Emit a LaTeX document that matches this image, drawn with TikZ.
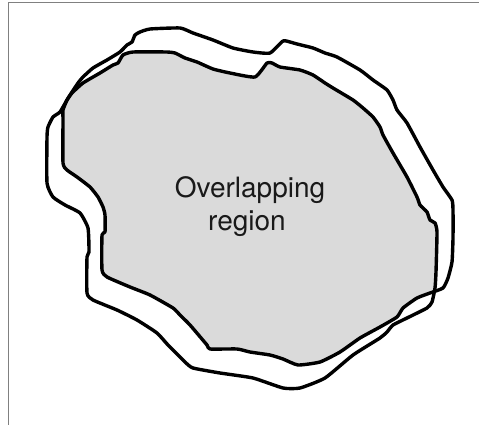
\documentclass[tikz,border=0pt]{standalone}
\usepackage{fontspec}
\setmainfont{TeX Gyre Heros}
\definecolor{framegray}{RGB}{128,128,128}
\definecolor{overlapgray}{RGB}{218,218,218}
\definecolor{textdark}{RGB}{25,25,25}
\def\blobP{plot[smooth cycle,tension=0.3] coordinates {(135,35)(140,32)(150,29)(180,28)(193,33)(213,40)(233,48)(253,52)(270,53)(283,41)(290,42)(297,44)(313,48)(325,53)(337,57)(360,70)(373,80)(387,90)(393,100)(397,110)(407,123)(420,147)(433,170)(443,187)(452,200)(453,210)(453,238)(452,262)(448,278)(443,288)(430,293)(417,298)(403,308)(397,317)(380,327)(360,338)(340,352)(320,362)(298,365)(283,359)(270,355)(250,352)(237,349)(210,349)(207,345)(190,325)(180,315)(173,308)(150,295)(130,287)(107,277)(102,270)(102,235)(105,232)(105,215)(103,207)(98,197)(90,187)(77,177)(67,170)(63,163)(63,120)(63,110)(67,100)(72,92)(78,83)(83,77)(93,68)(107,60)(120,52)(127,45)(132,42)}}
\def\blobQ{plot[smooth cycle,tension=0.3] coordinates {(123,55)(133,52)(167,52)(175,53)(185,58)(197,62)(213,69)(230,73)(255,77)(267,63)(272,63)(280,67)(300,70)(313,75)(325,83)(333,88)(353,100)(363,108)(373,117)(380,127)(383,135)(393,153)(407,177)(417,197)(420,205)(427,212)(430,220)(435,223)(437,232)(436,272)(435,288)(432,302)(427,308)(407,318)(393,325)(387,332)(380,338)(353,355)(325,378)(300,388)(283,388)(253,378)(220,373)(193,368)(185,362)(168,345)(157,333)(137,320)(117,310)(93,300)(87,293)(87,257)(89,252)(88,228)(80,213)(65,205)(53,197)(47,183)(47,137)(48,127)(53,117)(60,112)(67,100)(72,93)(83,83)(100,73)(113,65)(118,63)}}
\tikzset{
  outline/.style={draw=black, line width=3.4pt, line join=round, line cap=round},
  framestyle/.style={draw=framegray, line width=1pt},
  labeltext/.style={text=textdark, font=\fontsize{28}{33}\selectfont, inner sep=0pt, anchor=base}
}
\begin{document}
\begin{tikzpicture}[x=1pt,y=-1pt]
\useasboundingbox (0,0) rectangle (479,425);
\fill[white] (0,0) rectangle (479,425);
\draw[framestyle] (8,425) -- (8,3) -- (479,3);
\begin{scope}
  \clip \blobQ;
  \fill[overlapgray] \blobP;
\end{scope}
\draw[outline] \blobP;
\draw[outline] \blobQ;
\node[labeltext] (lineone) at (250,197) {Overlapping};
\node[labeltext] (linetwo) at (247,230) {region};
\end{tikzpicture}
\end{document}
